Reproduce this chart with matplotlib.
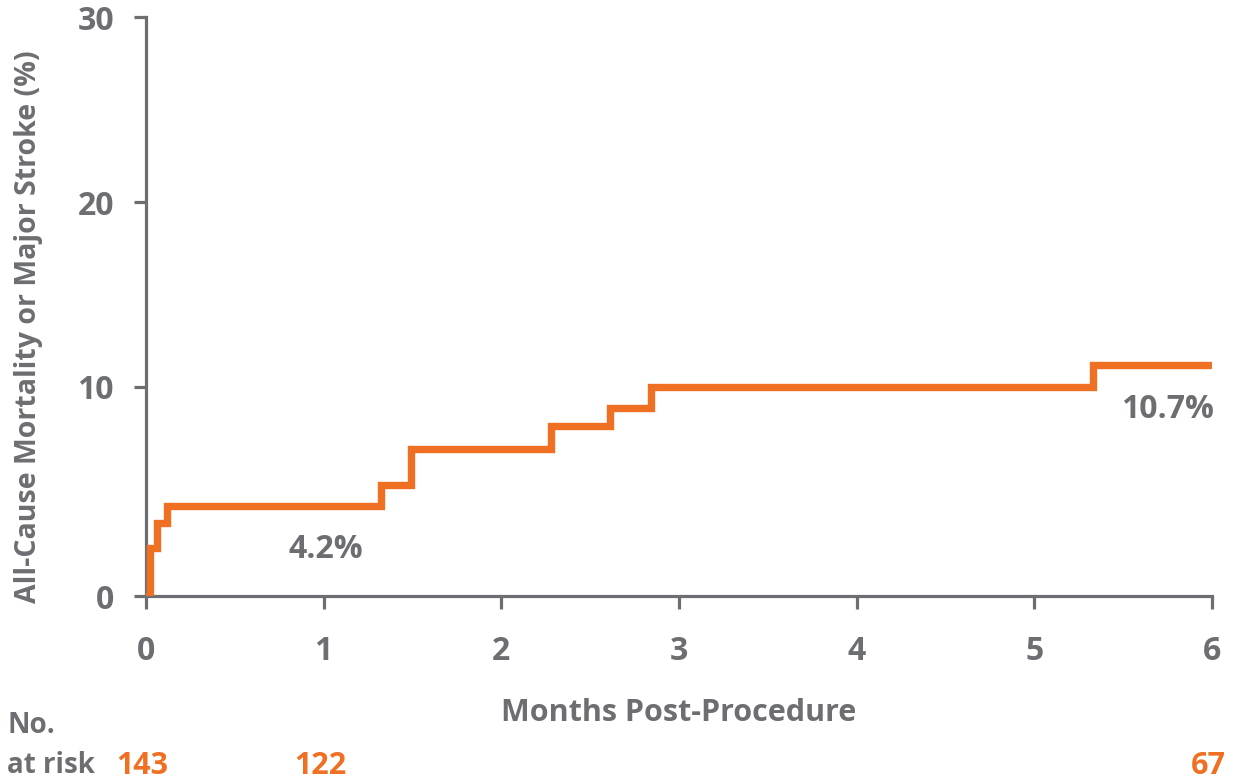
import matplotlib
matplotlib.use("Agg")
import matplotlib.pyplot as plt
import numpy as np

# step curve (months, cumulative %)
months = [0.0, 0.02, 0.06, 0.12, 1.32, 1.49, 2.28, 2.61, 2.84, 5.33, 6.0]
event_pct = [0.0, 2.3, 3.5, 4.3, 5.3, 7.0, 8.1, 9.0, 10.0, 11.2, 11.2]

risk_months = [0, 1, 6]
at_risk = [143, 122, 67]

annot_x = [1.01, 5.75]
annot_y = [2.2, 8.9]
annot_text = ["4.2%", "10.7%"]

grey = "#6d6e71"
orange = "#f07023"
plt.rcParams['font.family'] = ['Open Sans', 'DejaVu Sans']

# the original y axis is not evenly spaced: 0-10 is taller than 10-20 and 20-30
y_ticks = [0, 10, 20, 30]
y_pix = [0, 209, 393, 578]

def fwd(v):
    return np.interp(v, y_ticks, y_pix, left=-1e3, right=1e3)

def inv(p):
    return np.interp(p, y_pix, y_ticks)

fig = plt.figure(figsize=(12.33, 7.83), dpi=100)
ax = fig.add_axes([0.1184, 0.2388, 0.8646, 0.7394])
ax.set_yscale('function', functions=(fwd, inv))

ax.step(months, event_pct, where='post', color=orange, lw=5.3, solid_joinstyle='miter', zorder=3)

ax.set_xlim(0, 6)
ax.set_ylim(0, 30)
ax.set_xticks(range(7))
ax.set_yticks(y_ticks)
for s in ['top', 'right']:
    ax.spines[s].set_visible(False)
for s in ['left', 'bottom']:
    ax.spines[s].set_color(grey)
    ax.spines[s].set_linewidth(2.3)
ax.tick_params(colors=grey, width=2.3, length=9, labelsize=23)
ax.tick_params(axis='y', pad=14)
ax.tick_params(axis='x', pad=19)
for lab in ax.get_xticklabels() + ax.get_yticklabels():
    lab.set_fontweight('bold')

ax.set_xlabel("Months Post-Procedure", fontsize=22, color=grey, fontweight='bold', labelpad=22)
ax.set_ylabel("All-Cause Mortality or Major Stroke (%)", fontsize=20.5, color=grey, fontweight='bold')
ax.yaxis.set_label_coords(-0.097, 0.466)

for x, y, t in zip(annot_x, annot_y, annot_text):
    ax.text(x, y, t, ha='center', va='center', fontsize=23, color=grey, fontweight='bold')

fig.text(0.006, 0.074, "No.", fontsize=20, color=grey, fontweight='bold', va='center')
fig.text(0.006, 0.022, "at risk", fontsize=20, color=grey, fontweight='bold', va='center')
for m, n in zip(risk_months, at_risk):
    xf = fig.transFigure.inverted().transform(ax.transData.transform((m, 0)))[0]
    fig.text(xf - 0.003, 0.022, str(n), fontsize=22, color=orange, fontweight='bold', ha='center', va='center')

fig.savefig("out.png", dpi=100)
